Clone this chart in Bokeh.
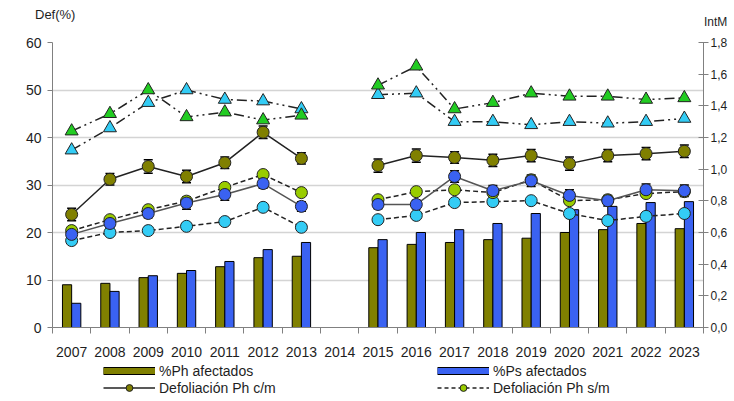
import numpy as np
from bokeh.plotting import figure
from bokeh.layouts import column
from bokeh.models import (Range1d, LinearAxis, FixedTicker, CustomJSTickFormatter,
                          Legend, LegendItem, Whisker, ColumnDataSource, TeeHead, Div)
from bokeh.embed import file_html
from bokeh.resources import INLINE

nan = float("nan")

years = ["2007", "2008", "2009", "2010", "2011", "2012", "2013", "2014", "2015",
         "2016", "2017", "2018", "2019", "2020", "2021", "2022", "2023"]

# %Ph / %Ps afectados (left axis, %)
ph_afect = [9.0, 9.3, 10.5, 11.4, 12.8, 14.7, 15.0, nan, 16.8, 17.5, 17.9, 18.5, 18.8, 20.0, 20.6, 21.9, 20.8]
ps_afect = [5.1, 7.6, 10.9, 12.0, 13.9, 16.4, 17.9, nan, 18.5, 20.0, 20.6, 21.9, 24.0, 24.8, 25.5, 26.3, 26.5]

# Defoliación (left axis, %)
def_ph_cm = [23.8, 31.2, 33.9, 31.8, 34.7, 41.1, 35.6, nan, 34.1, 36.2, 35.8, 35.2, 36.2, 34.5, 36.2, 36.6, 37.1]
def_ph_cm_err = [1.3, 1.2, 1.4, 1.3, 1.2, 1.3, 1.2, nan, 1.4, 1.4, 1.2, 1.3, 1.3, 1.4, 1.3, 1.3, 1.3]
def_ph_sm = [20.4, 22.7, 24.8, 26.6, 29.5, 32.2, 28.4, nan, 26.9, 28.6, 29.0, 28.4, 31.1, 26.7, 26.9, 28.2, 28.6]
def_ps_cm = [19.6, 21.9, 24.0, 26.2, 28.0, 30.3, 25.5, nan, 25.9, 25.9, 31.8, 28.8, 30.9, 27.8, 26.7, 29.0, 28.8]
def_ps_cm_err = [0.8, 0.8, 0.9, 1.3, 1.2, 1.0, 1.0, nan, 0.9, 0.9, 1.2, 1.1, 1.2, 1.2, 1.1, 1.2, 1.2]
def_ps_sm = [18.3, 20.0, 20.4, 21.3, 22.3, 25.3, 21.1, nan, 22.7, 23.6, 26.3, 26.5, 26.7, 24.0, 22.5, 23.4, 24.0]

# IntM (right axis)
intm_ph = [1.24, 1.35, 1.50, 1.33, 1.36, 1.31, 1.34, nan, 1.53, 1.65, 1.38, 1.42, 1.48, 1.46, 1.46, 1.44, 1.45]
intm_ps = [1.12, 1.26, 1.42, 1.50, 1.44, 1.43, 1.38, nan, 1.47, 1.48, 1.30, 1.30, 1.28, 1.30, 1.29, 1.30, 1.32]

left_ticks = [0, 10, 20, 30, 40, 50, 60]
right_ticks = [0.0, 0.2, 0.4, 0.6, 0.8, 1.0, 1.2, 1.4, 1.6, 1.8]

FONT = "Liberation Sans"
TXT = "#1e1e1e"
OLIVE = "#808000"
BLUE = "#3a62f2"
YGREEN = "#99cc00"
CYAN = "#33ccf5"
GREEN = "#22cc22"

W = 730
idx = np.arange(len(years), dtype=float)

# ---------- top strip with the two axis titles ----------
head = Div(width=W, height=30, margin=(0, 0, 0, 0), text=(
    f'<div style="position:relative;width:{W}px;height:30px;font-family:\'{FONT}\';color:{TXT};line-height:1;">'
    '<span style="position:absolute;left:35px;top:8px;font-size:13px;">Def(%)</span>'
    '<span style="position:absolute;left:704px;top:16px;font-size:12px;">IntM</span>'
    '</div>'))

# ---------- main chart ----------
p = figure(width=W, height=329, output_backend="svg", toolbar_location=None,
           x_range=Range1d(-0.5, len(years) - 0.5), y_range=Range1d(0, 60),
           min_border_left=52, min_border_right=24, min_border_top=12, min_border_bottom=32)
p.outline_line_color = None
p.extra_y_ranges = {"intm": Range1d(0, 1.8)}

p.xaxis.ticker = FixedTicker(ticks=list(idx), minor_ticks=list(np.arange(-0.5, len(years), 1.0)))
p.xaxis.major_label_overrides = {int(i): y for i, y in zip(idx, years)}
p.xaxis.major_tick_out = 0
p.xaxis.major_tick_in = 0
p.xaxis.minor_tick_out = 6
p.xaxis.minor_tick_in = 0
p.xaxis.major_label_standoff = 13
p.xaxis.axis_line_color = "#808080"
p.xaxis.minor_tick_line_color = "#808080"
p.xaxis.major_label_text_font = FONT
p.xaxis.major_label_text_font_size = "14px"
p.xaxis.major_label_text_color = TXT

p.yaxis.ticker = FixedTicker(ticks=left_ticks)
p.yaxis.major_tick_out = 5
p.yaxis.major_tick_in = 0
p.yaxis.minor_tick_line_color = None
p.yaxis.major_label_standoff = 6
p.yaxis.axis_line_color = "#808080"
p.yaxis.major_tick_line_color = "#808080"
p.yaxis.major_label_text_font = FONT
p.yaxis.major_label_text_font_size = "14px"
p.yaxis.major_label_text_color = TXT

raxis = LinearAxis(y_range_name="intm", ticker=FixedTicker(ticks=right_ticks),
                   formatter=CustomJSTickFormatter(code="return tick.toFixed(1).replace('.', ',');"))
raxis.major_tick_out = 5
raxis.major_tick_in = 5
raxis.minor_tick_line_color = None
raxis.major_label_standoff = 2
raxis.axis_line_color = "#808080"
raxis.major_tick_line_color = "#808080"
raxis.major_label_text_font = FONT
raxis.major_label_text_font_size = "12px"
raxis.major_label_text_color = TXT
p.add_layout(raxis, "right")

p.xgrid.grid_line_color = None
p.ygrid.ticker = FixedTicker(ticks=left_ticks)
p.ygrid.grid_line_color = "#d4d4d4"
p.ygrid.grid_line_width = 1.5

src = ColumnDataSource(dict(x=idx, ph_afect=ph_afect, ps_afect=ps_afect,
                            def_ph_cm=def_ph_cm, def_ph_sm=def_ph_sm,
                            def_ps_cm=def_ps_cm, def_ps_sm=def_ps_sm,
                            intm_ph=intm_ph, intm_ps=intm_ps))
bw = 0.24
p.vbar(x=idx - 0.12, top=ph_afect, width=bw, fill_color=OLIVE, line_color="black", line_width=1)
p.vbar(x=idx + 0.12, top=ps_afect, width=bw, fill_color=BLUE, line_color="black", line_width=1)

def whisk(vals, errs):
    v = np.array(vals)
    e = np.array(errs)
    m = ~np.isnan(v)
    s = ColumnDataSource(dict(x=idx[m], lo=(v - e)[m], hi=(v + e)[m]))
    w = Whisker(base="x", lower="lo", upper="hi", source=s, level="underlay",
                line_color="black", line_width=1,
                upper_head=TeeHead(size=9, line_color="black", line_width=1.5),
                lower_head=TeeHead(size=9, line_color="black", line_width=1.5))
    p.add_layout(w)

whisk(def_ph_cm, def_ph_cm_err)
whisk(def_ps_cm, def_ps_cm_err)

MS = 12
p.line("x", "def_ps_sm", source=src, line_color="#222222", line_width=1.5, line_dash="5 3")
p.scatter("x", "def_ps_sm", source=src, marker="circle", size=MS, fill_color=CYAN, line_color="#222222")
p.line("x", "def_ph_sm", source=src, line_color="#222222", line_width=1.5, line_dash="5 3")
p.scatter("x", "def_ph_sm", source=src, marker="circle", size=MS, fill_color=YGREEN, line_color="#222222")
p.line("x", "def_ps_cm", source=src, line_color="#555555", line_width=1.5)
p.scatter("x", "def_ps_cm", source=src, marker="circle", size=MS, fill_color=BLUE, line_color="#222222")
p.line("x", "def_ph_cm", source=src, line_color="#222222", line_width=1.5)
p.scatter("x", "def_ph_cm", source=src, marker="circle", size=MS, fill_color=OLIVE, line_color="#222222")

p.line("x", "intm_ps", source=src, y_range_name="intm", line_color="#222222", line_width=1.5, line_dash="10 4 2 4 2 4")
p.scatter("x", "intm_ps", source=src, y_range_name="intm", marker="triangle", size=13, fill_color=CYAN, line_color="#222222")
p.line("x", "intm_ph", source=src, y_range_name="intm", line_color="#222222", line_width=1.5, line_dash="10 4 2 4 2 4")
p.scatter("x", "intm_ph", source=src, y_range_name="intm", marker="triangle", size=13, fill_color=GREEN, line_color="#222222")

# ---------- legend strip (legend-only proxy glyphs, no visible data) ----------
pl = figure(width=W, height=40, output_backend="svg", toolbar_location=None,
            x_axis_type=None, y_axis_type=None, min_border=0,
            x_range=Range1d(0, 1), y_range=Range1d(0, 1))
pl.outline_line_color = None
proxy = ColumnDataSource(dict(x=[nan], y=[nan]))
g_ph_o = pl.line("x", "y", source=proxy, line_color="black", line_width=8)
g_ph = pl.line("x", "y", source=proxy, line_color=OLIVE, line_width=6)
g_ps_o = pl.line("x", "y", source=proxy, line_color="black", line_width=8)
g_ps = pl.line("x", "y", source=proxy, line_color=BLUE, line_width=6)
g_l1 = pl.line("x", "y", source=proxy, line_color="#222222", line_width=1.5)
g_s1 = pl.scatter("x", "y", source=proxy, marker="circle", size=MS, fill_color=OLIVE, line_color="#222222")
g_l2 = pl.line("x", "y", source=proxy, line_color="#222222", line_width=1.5, line_dash="4 3")
g_s2 = pl.scatter("x", "y", source=proxy, marker="circle", size=MS, fill_color=YGREEN, line_color="#222222")

legend = Legend(items=[
    LegendItem(label="%Ph afectados", renderers=[g_ph_o, g_ph]),
    LegendItem(label="%Ps afectados", renderers=[g_ps_o, g_ps]),
    LegendItem(label="Defoliación Ph c/m", renderers=[g_l1, g_s1]),
    LegendItem(label="Defoliación Ph s/m", renderers=[g_l2, g_s2]),
], location=(51, 3), orientation="horizontal", ncols=2)
legend.border_line_color = None
legend.background_fill_alpha = 0
legend.label_text_font = FONT
legend.label_text_font_size = "14px"
legend.label_text_color = TXT
legend.glyph_width = 52
legend.glyph_height = 17
legend.label_height = 17
legend.label_width = 278
legend.label_standoff = 4
legend.spacing = 0
legend.padding = 0
legend.margin = 0
pl.add_layout(legend, "center")

layout = column(head, p, pl, spacing=0)
open("out.html", "w").write(file_html(layout, INLINE))
